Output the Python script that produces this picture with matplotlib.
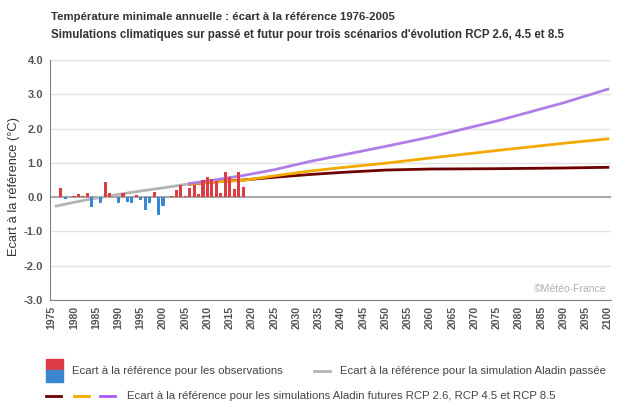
import numpy as np
import matplotlib.pyplot as plt
from matplotlib.patches import Rectangle
from matplotlib.lines import Line2D
from matplotlib import font_manager


def have(name):
    try:
        font_manager.findfont(name, fallback_to_default=False)
        return True
    except Exception:
        return False

narrow = 'Liberation Sans Narrow' if have('Liberation Sans Narrow') else 'Liberation Sans'
plt.rcParams['font.family'] = ['Liberation Sans', 'DejaVu Sans']

# observations (ecart a la reference 1976-2005)
obs_years = np.arange(1977, 2019)
obs_vals = [0.28, -0.04, 0.01, 0.04, 0.09, 0.04, 0.13, -0.28, 0.01, -0.18,
            0.45, 0.13, 0.01, -0.18, 0.13, -0.13, -0.18, 0.06, -0.07, -0.37,
            -0.18, 0.16, -0.51, -0.25, 0.01, 0.03, 0.21, 0.36, 0.04, 0.28,
            0.36, 0.09, 0.51, 0.60, 0.54, 0.47, 0.13, 0.74, 0.59, 0.24,
            0.74, 0.30]

# simulation Aladin passee
past_years = [1976, 1980, 1984, 1990, 1995, 2000, 2005.5]
past_vals = [-0.26, -0.15, -0.05, 0.08, 0.18, 0.27, 0.38]

# simulations futures
fut_years = [2006, 2010, 2018, 2025, 2033, 2040, 2050, 2060, 2075, 2090, 2100]
rcp26 = [0.38, 0.43, 0.50, 0.58, 0.66, 0.72, 0.79, 0.82, 0.83, 0.85, 0.87]
rcp45 = [0.38, 0.43, 0.49, 0.62, 0.76, 0.86, 0.99, 1.14, 1.36, 1.57, 1.70]
rcp85 = [0.40, 0.47, 0.63, 0.80, 1.04, 1.22, 1.48, 1.75, 2.22, 2.75, 3.15]

W, H = 630, 405
def fx(px): return px / W
def fy(py): return 1 - py / H

fig = plt.figure(figsize=(6.3, 4.05), dpi=100)
ax = fig.add_axes([fx(50), fy(300), 561 / W, 240 / H])

ax.set_xlim(1974.6, 2100.7)
ax.set_ylim(-3, 4)
yt = np.arange(-3, 5, 1)
ax.set_yticks(yt)
ax.set_yticklabels(['%.1f' % v for v in yt], fontfamily=narrow, fontweight='bold',
                   fontsize=8, color='#555555')
xt = np.arange(1975, 2101, 5)
ax.set_xticks(xt)
ax.set_xticklabels([str(v) for v in xt], rotation=90, fontfamily=narrow,
                   fontweight='bold', fontsize=7.5, color='#555555')
ax.tick_params(length=0)
ax.tick_params(axis='y', pad=5)
ax.tick_params(axis='x', pad=4)
ax.yaxis.grid(True, color='#e2e2e2', lw=1)
ax.set_axisbelow(True)
for s in ['top', 'right']:
    ax.spines[s].set_visible(False)
ax.spines['left'].set_color('#808080')
ax.spines['bottom'].set_color('#808080')
ax.axhline(0, color='#a0a0a0', lw=1.3, zorder=1)

ax.plot(past_years, past_vals, color='#b4b4b4', lw=2, zorder=2)
ax.plot(fut_years, rcp26, color='#6e0000', lw=2, zorder=2)
ax.plot(fut_years, rcp45, color='#f2a900', lw=2, zorder=2.1)
ax.plot(fut_years, rcp85, color='#b07ee8', lw=2, zorder=2.2)

colors = ['#dd3c45' if v >= 0 else '#3a86d0' for v in obs_vals]
ax.bar(obs_years, obs_vals, width=0.7, color=colors, zorder=3)

ax.set_ylabel('Ecart à la référence (°C)', fontsize=9.3, color='#333333')
ax.yaxis.set_label_coords(-(50 - 20) / 561, (300 - 187) / 240)

fig.text(fx(606), fy(289), '©Météo-France', fontsize=7.5, color='#b0b0b0',
         va='center', ha='right')

fig.text(fx(51), fy(17), 'Température minimale annuelle : écart à la référence 1976-2005',
         fontfamily=narrow, fontweight='bold', fontsize=8.2, color='#333333', va='center')
fig.text(fx(51), fy(35), "Simulations climatiques sur passé et futur pour trois scénarios d'évolution RCP 2.6, 4.5 et 8.5",
         fontfamily=narrow, fontweight='bold', fontsize=8.3, color='#333333', va='center')

# legende
fs_leg = 8.2
fig.add_artist(Rectangle((fx(46), fy(370)), 17 / W, 11 / H, color='#dd3c45', transform=fig.transFigure))
fig.add_artist(Rectangle((fx(46), fy(382)), 17 / W, 12 / H, color='#3a86d0', transform=fig.transFigure))
fig.text(fx(72), fy(371), 'Ecart à la référence pour les observations', fontsize=fs_leg,
         color='#444444', va='center')
fig.add_artist(Line2D([fx(314), fx(330)], [fy(371)] * 2, color='#b4b4b4', lw=2,
                      transform=fig.transFigure))
fig.text(fx(340), fy(371), 'Ecart à la référence pour la simulation Aladin passée', fontsize=fs_leg,
         color='#444444', va='center')
for x0, c in [(46, '#6e0000'), (74, '#f2a900'), (100, '#a855f7')]:
    fig.add_artist(Line2D([fx(x0), fx(x0 + 15)], [fy(396)] * 2, color=c, lw=2,
                          transform=fig.transFigure))
fig.text(fx(127), fy(396), 'Ecart à la référence pour les simulations Aladin futures RCP 2.6, RCP 4.5 et RCP 8.5',
         fontsize=fs_leg, color='#444444', va='center')

fig.savefig('out.png', dpi=100)
